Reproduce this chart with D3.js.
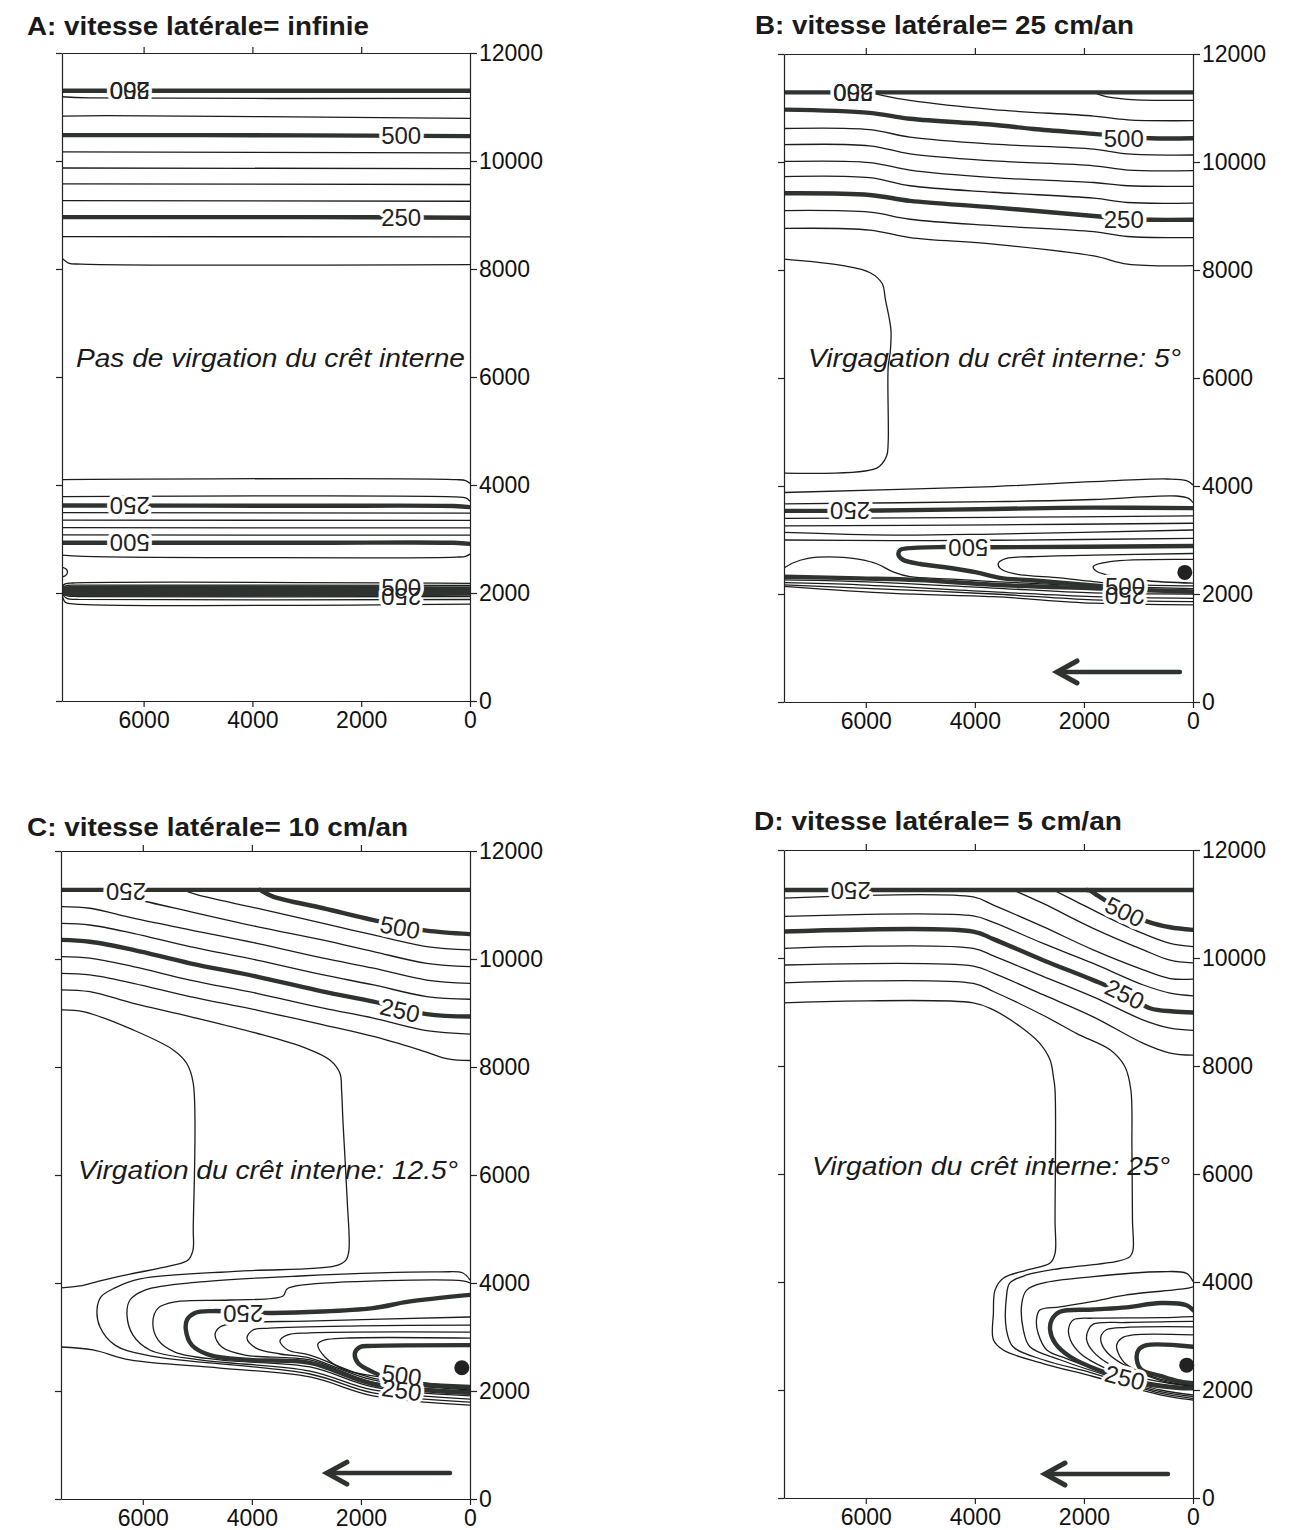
<!DOCTYPE html>
<html><head><meta charset="utf-8">
<script src="https://cdn.jsdelivr.net/npm/d3@7"></script>
<style>
body{margin:0;background:#fff}
svg{display:block}
text{font-family:"Liberation Sans",Arial,Helvetica,sans-serif}
</style>
</head><body>
<svg id="chart" width="1294" height="1530"></svg>
<script>
// ---------- common axes ----------
const xDomain = [7500, 0];
const yDomain = [0, 12000];
const yTicks = [0, 2000, 4000, 6000, 8000, 10000, 12000];
const xTicks = [6000, 4000, 2000, 0];
const xTopTicks = [6000, 4000, 2000];

const titles = {
  A: "A: vitesse latérale= infinie",
  B: "B: vitesse latérale= 25 cm/an",
  C: "C: vitesse latérale= 10 cm/an",
  D: "D: vitesse latérale= 5 cm/an"
};
const notes = {
  A: "Pas de virgation du crêt interne",
  B: "Virgagation du crêt interne: 5°",
  C: "Virgation du crêt interne: 12.5°",
  D: "Virgation du crêt interne: 25°"
};
// annotation anchors in data units: [x start, baseline y, x end]
const noteAnchors = {
  A: [7244, 6191, 92],
  B: [7061, 6204, 220],
  C: [7189, 5926, 220],
  D: [6988, 5982, 422]
};

// ---------- Panel A ----------
const aThick = [
  [[7500,11300],[0,11300]],
  [[7500,10480],[3000,10475],[0,10460]],
  [[7500,8960],[3000,8960],[0,8950]],
  [[7500,3620],[3000,3615],[300,3610],[0,3590]],
  [[7500,2930],[3000,2930],[300,2930],[0,2910]],
  [[7500,2075],[7440,2085],[0,2085]],
  [[7500,2040],[0,2035]],
  [[7500,2010],[7440,1995],[0,1990]]
];
const aThin = [
  [[7500,11190],[7000,11170],[0,11160]],
  [[7500,10830],[6700,10840],[3800,10820],[0,10790]],
  [[7500,10170],[0,10150]],
  [[7500,9870],[0,9860]],
  [[7500,9575],[0,9565]],
  [[7500,9265],[0,9255]],
  [[7500,8600],[0,8595]],
  [[7500,8200],[7380,8110],[7150,8090],[0,8080]],
  [[7500,4100],[250,4100],[80,4080],[0,4030]],
  [[7500,3785],[250,3780],[80,3760],[0,3700]],
  [[7500,3490],[0,3480]],
  [[7500,3350],[0,3345]],
  [[7500,3210],[0,3205]],
  [[7500,3075],[0,3070]],
  [[7500,2700],[7100,2680],[250,2665],[80,2680],[0,2720]],
  [[7500,2480],[7420,2440],[7400,2380],[7440,2320],[7500,2300]],
  [[7500,2120],[7440,2170],[7300,2185],[0,2180]],
  [[7500,2100],[7400,2140],[7200,2145],[0,2140]],
  [[7500,1995],[7400,1945],[7200,1935],[0,1935]],
  [[7500,1985],[7400,1895],[7200,1882],[0,1880]],
  [[7500,1975],[7440,1830],[7300,1800],[0,1795]]
];
const aLabels = [
  {t:"500",x:6254,y:11300,a:180},{t:"250",x:6254,y:11300,a:180},
  {t:"500",x:1265,y:10470,a:0},
  {t:"250",x:1265,y:8955,a:0},
  {t:"250",x:6254,y:3617,a:180},
  {t:"500",x:6254,y:2930,a:180},
  {t:"500",x:1265,y:2110,a:0},
  {t:"250",x:1265,y:1930,a:180}
];

// ---------- Panel B ----------
const bThick = [
  [[7500,11290],[0,11290]],
  [[7500,10970],[5930,10910],[5190,10800],[3660,10690],[2920,10610],[1820,10520],[1260,10470],[770,10440],[0,10440]],
  [[7500,9420],[5930,9390],[5190,9280],[3660,9160],[1820,9000],[1260,8950],[770,8930],[0,8930]],
  [[7500,3540],[6750,3540],[5740,3545],[3660,3575],[1830,3600],[0,3590]],
  [[0,2890],[3660,2865],[4580,2870],[5250,2845],[5370,2815],[5400,2722],[5310,2630],[5000,2555],[4580,2500],[3970,2400],[3540,2300],[2800,2240],[1830,2160],[1300,2120]],
  [[7500,2320],[6110,2290],[5040,2260],[3660,2170],[1830,2105],[850,2070],[0,2045]]
];
const bThin = [
  [[5900,11290],[5680,11230],[5190,11140],[3660,10970],[1820,10850],[1200,10780],[0,10765]],
  [[1820,11290],[1630,11220],[1200,11160],[0,11140]],
  [[7500,10620],[5930,10600],[5190,10460],[3660,10330],[1820,10240],[1200,10150],[0,10130]],
  [[7500,10320],[5930,10300],[5190,10150],[3660,10020],[1820,9930],[1200,9850],[0,9840]],
  [[7500,10010],[5930,9990],[5190,9850],[3660,9710],[1820,9620],[1200,9560],[0,9550]],
  [[7500,9730],[5930,9710],[5190,9560],[3660,9440],[1820,9330],[1200,9250],[0,9240]],
  [[7500,9100],[5930,9070],[5190,8940],[3660,8820],[1820,8710],[1200,8620],[0,8600]],
  [[7500,8770],[5930,8740],[5190,8600],[3660,8480],[1820,8260],[1200,8110],[0,8080]],
  [[7500,8200],[6420,8080],[5920,7950],[5700,7750],[5640,7450],[5540,6900],[5550,6500],[5590,6200],[5590,4800],[5620,4550],[5800,4330],[7500,4240]],
  [[7500,3880],[3660,3990],[1830,4080],[480,4130],[120,4100],[0,4020]],
  [[7500,3670],[3660,3710],[1830,3750],[300,3815],[80,3770],[0,3690]],
  [[7500,3400],[3660,3420],[0,3445]],
  [[7500,3260],[3660,3280],[0,3310]],
  [[7500,3140],[5500,3090],[3660,3110],[0,3185]],
  [[7500,3000],[5500,2990],[3660,2995],[0,3030]],
  [[0,2750],[1830,2720],[2980,2690],[3420,2660],[3570,2570],[3540,2480],[3300,2380],[2440,2300],[1830,2230],[1200,2180],[0,2150]],
  [[0,2640],[1520,2600],[1830,2510],[1770,2420],[1460,2330],[900,2250],[0,2200]],
  [[7500,2480],[7350,2570],[7060,2660],[6410,2680],[6110,2640],[5800,2560],[5500,2410],[5190,2320],[4500,2280],[3660,2230],[1830,2150],[0,2100]],
  [[7500,2260],[6110,2230],[3660,2110],[1830,2020],[0,2000]],
  [[7500,2210],[6110,2170],[3660,2040],[1830,1950],[0,1920]],
  [[7500,2170],[6110,2110],[3660,2000],[1830,1890],[0,1860]],
  [[7500,2140],[5500,2010],[3660,1950],[1830,1830],[0,1800]]
];
const bLabels = [
  {t:"500",x:6230,y:11280,a:180},{t:"250",x:6230,y:11280,a:180},
  {t:"500",x:1270,y:10445,a:0},
  {t:"250",x:1270,y:8930,a:0},
  {t:"250",x:6290,y:3540,a:180},
  {t:"500",x:4121,y:2862,a:180},
  {t:"500",x:1247,y:2135,a:0},
  {t:"250",x:1247,y:1965,a:180}
];
const bDots = [[150,2400]];
const bArrow = [240, 2530, 556];

// ---------- Panel C ----------
const cThick = [
  [[7500,11280],[0,11280]],
  [[3850,11280],[3610,11155],[2690,10940],[1770,10720],[1284,10620],[794,10525],[0,10460]],
  [[7500,10355],[6970,10320],[6175,10170],[5135,9920],[3910,9675],[2690,9395],[1770,9210],[794,8980],[0,8935]],
  [[0,3780],[1155,3650],[1780,3535],[3615,3445],[4160,3460],[4715,3480],[5045,3445],[5190,3315],[5210,3130],[5100,2850],[4770,2665],[4035,2575],[2935,2520],[1780,2130],[0,1965]],
  [[0,2850],[1780,2835],[2015,2815],[2110,2705],[2055,2520],[1780,2350],[1560,2260]],
  [[825,2110],[0,2075]]
];
const cThin = [
  [[5260,11280],[5010,11190],[3910,10940],[2690,10660],[1770,10445],[794,10230],[0,10170]],
  [[6660,11280],[6175,11125],[5135,10877],[3910,10600],[2690,10350],[1770,10137],[794,9920],[0,9860]],
  [[7500,10970],[6970,10940],[6175,10755],[5135,10540],[3910,10290],[2690,10015],[1770,9830],[794,9610],[0,9550]],
  [[7500,10660],[6970,10630],[6175,10475],[5135,10230],[3910,9980],[2690,9705],[1770,9520],[794,9305],[0,9255]],
  [[7500,10045],[6970,10015],[6175,9860],[5135,9610],[3910,9365],[2690,9090],[1770,8905],[794,8675],[0,8610]],
  [[7500,9735],[6970,9705],[6175,9550],[5135,9305],[3910,9055],[2690,8780],[1770,8565],[900,8310],[400,8150],[0,8120]],
  [[7500,9430],[6970,9395],[6175,9180],[5135,8935],[3910,8625],[3000,8345],[2570,8130],[2385,7885],[2355,7575],[2330,7000],[2250,5500],[2220,4610],[2275,4425],[2475,4315],[4220,4220],[6050,4075],[6510,3910],[6770,3740],[6840,3500],[6785,3185],[6510,2850],[5870,2650],[2935,2315],[1780,1965],[0,1795]],
  [[7500,9057],[7092,9026],[6175,8686],[5441,8316],[5196,8069],[5075,7699],[5075,5000],[5080,4610],[5170,4425],[5500,4315],[6235,4165],[6785,4040],[7150,3945],[7500,3910]],
  [[7500,2815],[6915,2760],[6235,2575],[4585,2425],[2935,2260],[1780,1910],[0,1740]],
  [[0,4055],[130,4185],[550,4205],[3120,4130],[4950,4020],[5960,3870],[6235,3685],[6290,3410],[6180,3035],[5870,2760],[4950,2575],[2935,2370],[1780,2020],[0,1850]],
  [[0,4000],[130,4040],[3060,3965],[3355,3890],[3430,3760],[4400,3685],[5410,3650],[5720,3535],[5815,3280],[5720,2945],[5410,2720],[4585,2575],[2935,2445],[1780,2075],[0,1910]],
  [[0,3370],[2990,3295],[4220,3260],[4585,3185],[4675,3040],[4550,2815],[4125,2665],[2935,2575],[1780,2165],[0,2000]],
  [[0,3220],[2015,3205],[3670,3165],[3980,3130],[4090,2980],[3925,2795],[3485,2685],[2935,2610],[1780,2205],[0,2020]],
  [[0,3090],[2935,3075],[3355,3035],[3485,2925],[3340,2760],[2935,2665],[1780,2240],[0,2035]],
  [[0,2980],[2290,2980],[2660,2945],[2790,2870],[2660,2630],[2290,2390],[1780,2280],[0,2055]]
];
const cLabels = [
  {t:"250",x:6309,y:11250,a:180},
  {t:"500",x:1284,y:10588,a:11},
  {t:"250",x:1284,y:9056,a:13},
  {t:"250",x:4160,y:3440,a:180},
  {t:"500",x:1253,y:2296,a:8},
  {t:"250",x:1253,y:2019,a:8}
];
const cDots = [[150,2430]];
const cArrow = [367, 2660, 480];

// ---------- Panel D ----------
const dThick = [
  [[7500,11260],[0,11260]],
  [[1950,11260],[1890,11250],[1770,11170],[1645,11090],[1250,10858],[820,10670],[420,10570],[0,10520]],
  [[7500,10490],[4030,10490],[3660,10350],[2750,9960],[1830,9590],[1250,9334],[790,9070],[360,9010],[0,8990]],
  [[0,3480],[120,3570],[600,3610],[1220,3530],[1830,3490],[2440,3450],[2590,3300],[2620,3110],[2530,2870],[2260,2620],[1710,2360],[1250,2220],[790,2100],[300,2040],[0,2030]],
  [[0,2800],[850,2830],[1000,2740],[1030,2560],[940,2370],[600,2260],[300,2170],[0,2125]]
];
const dThin = [
  [[2560,11260],[2130,11040],[1520,10730],[910,10450],[420,10270],[0,10210]],
  [[3300,11260],[2750,11010],[1830,10550],[910,10150],[420,9960],[0,9910]],
  [[7500,11110],[4030,11130],[3660,10980],[2750,10580],[1830,10150],[910,9780],[420,9620],[0,9610]],
  [[7500,10770],[4030,10780],[3660,10660],[2750,10270],[1830,9900],[910,9500],[420,9350],[0,9300]],
  [[7500,10180],[4030,10180],[3660,10040],[2750,9660],[1830,9280],[910,8850],[420,8700],[0,8660]],
  [[7500,9870],[4030,9850],[3660,9720],[2750,9320],[1830,8910],[910,8420],[420,8240],[0,8200]],
  [[7500,9540],[4030,9530],[3660,9380],[2750,8940],[2130,8600],[1520,8300],[1250,7990],[1140,7560],[1120,6500],[1110,5150],[1100,4590],[1155,4470],[1400,4380],[2440,4250],[3050,4130],[3360,3980],[3420,3730],[3420,3110],[3300,2800],[2750,2560],[1830,2310],[600,1940],[55,1850],[0,1845]],
  [[7500,9170],[4030,9170],[3660,9040],[3170,8730],[2810,8420],[2620,8110],[2560,7800],[2530,7560],[2530,5150],[2530,4530],[2620,4350],[3050,4220],[3480,4070],[3630,3850],[3660,3420],[3660,2930],[3480,2740],[2750,2490],[1830,2250],[600,1910],[55,1820],[0,1815]],
  [[0,4010],[120,4160],[600,4190],[1830,4100],[2750,3980],[3050,3850],[3140,3600],[3110,3110],[2990,2800],[2440,2560],[1520,2250],[600,1970],[0,1880]],
  [[0,3910],[120,3880],[1220,3760],[1830,3640],[2440,3540],[2810,3480],[2870,3300],[2840,3050],[2680,2740],[2320,2580],[1520,2290],[600,2000],[0,1910]],
  [[0,3360],[600,3340],[1830,3330],[2190,3300],[2280,3140],[2250,2930],[2070,2680],[1640,2420],[920,2170],[300,2075],[0,2060]],
  [[0,3270],[1220,3250],[1830,3220],[1920,3110],[1950,2930],[1830,2710],[1520,2470],[920,2220],[0,2070]],
  [[0,3170],[1220,3160],[1580,3120],[1680,3020],[1680,2870],[1560,2680],[1220,2440],[600,2180],[0,2085]],
  [[0,3020],[1100,3020],[1310,2960],[1400,2830],[1370,2680],[1220,2470],[600,2200],[0,2105]]
];
const dLabels = [
  {t:"250",x:6278,y:11240,a:180},
  {t:"500",x:1250,y:10858,a:26},
  {t:"250",x:1250,y:9334,a:26},
  {t:"250",x:1250,y:2230,a:14}
];
const dDots = [[115,2460]];
const dArrow = [459, 2751, 444];

// ---------- layout (pixels) ----------
const layout = {
  A:{l:62,r:470,t:53,b:701, tx:27, ty:35, tw:342},
  B:{l:784,r:1193,t:54,b:702, tx:755, ty:33.5, tw:379},
  C:{l:61,r:470,t:851,b:1499, tx:27, ty:836, tw:381},
  D:{l:784,r:1193,t:850,b:1498, tx:754, ty:830, tw:368}
};

const panels = [
  {key:"A", thin:aThin, thick:aThick, labels:aLabels, dots:[], arrow:null},
  {key:"B", thin:bThin, thick:bThick, labels:bLabels, dots:bDots, arrow:bArrow},
  {key:"C", thin:cThin, thick:cThick, labels:cLabels, dots:cDots, arrow:cArrow},
  {key:"D", thin:dThin, thick:dThick, labels:dLabels, dots:dDots, arrow:dArrow}
];

const svg = d3.select("#chart");
svg.append("rect").attr("width",1294).attr("height",1530).attr("fill","#fff");

panels.forEach(p => {
  const L = layout[p.key];
  const x = d3.scaleLinear().domain(xDomain).range([L.l, L.r]);
  const y = d3.scaleLinear().domain(yDomain).range([L.b, L.t]);
  const g = svg.append("g");
  const clipId = "clip" + p.key;
  g.append("clipPath").attr("id", clipId).append("rect")
    .attr("x", L.l).attr("y", L.t).attr("width", L.r - L.l).attr("height", L.b - L.t);

  const line = d3.line().x(d => x(d[0])).y(d => y(d[1])).curve(d3.curveCatmullRom.alpha(0.5));
  const cg = g.append("g").attr("clip-path", `url(#${clipId})`);
  cg.selectAll("path.thin").data(p.thin).join("path").attr("class","thin")
    .attr("d", line).attr("fill","none").attr("stroke","#1c1c1c").attr("stroke-width",1.3)
    .attr("stroke-linejoin","round");
  cg.selectAll("path.thick").data(p.thick).join("path").attr("class","thick")
    .attr("d", line).attr("fill","none").attr("stroke","#2f3330").attr("stroke-width",4.4)
    .attr("stroke-linecap","round").attr("stroke-linejoin","round");

  // contour labels: halo pass then text pass
  const lab = g.append("g").attr("font-size",24).attr("text-anchor","middle");
  lab.selectAll("text.halo").data(p.labels).join("text").attr("class","halo")
    .attr("transform", d => `translate(${x(d.x)},${y(d.y)}) rotate(${d.a})`)
    .attr("dy","0.36em").attr("fill","none").attr("stroke","#fff").attr("stroke-width",7)
    .attr("stroke-linejoin","round").text(d => d.t);
  lab.selectAll("text.lbl").data(p.labels).join("text").attr("class","lbl")
    .attr("transform", d => `translate(${x(d.x)},${y(d.y)}) rotate(${d.a})`)
    .attr("dy","0.36em").attr("fill","#222").text(d => d.t);

  // dots
  g.selectAll("circle.dot").data(p.dots).join("circle").attr("class","dot")
    .attr("cx", d => x(d[0])).attr("cy", d => y(d[1])).attr("r",7.5).attr("fill","#222");

  // arrow
  if (p.arrow) {
    const [x0, x1, ya] = p.arrow;
    const X0 = x(x0), X1 = x(x1), Y = y(ya);
    g.append("line").attr("x1",X0).attr("x2",X1+4).attr("y1",Y).attr("y2",Y)
      .attr("stroke","#2f3330").attr("stroke-width",4.5).attr("stroke-linecap","round");
    g.append("path").attr("d",`M${X1+22},${Y-11}L${X1+2},${Y}L${X1+22},${Y+11}`)
      .attr("fill","none").attr("stroke","#2f3330").attr("stroke-width",5).attr("stroke-linecap","round")
      .attr("stroke-linejoin","miter");
  }

  // axes
  const styleAxis = sel => {
    sel.attr("font-size",23).attr("font-family","Liberation Sans, Arial, sans-serif");
    sel.selectAll("path,line").attr("stroke","#222").attr("stroke-width",1.2);
    sel.selectAll("text").attr("fill","#111");
  };
  g.append("g").attr("transform",`translate(${L.r},0)`)
    .call(d3.axisRight(y).tickValues(yTicks).tickSize(7).tickPadding(2).tickSizeOuter(0).tickFormat(d3.format("d")))
    .call(styleAxis);
  g.append("g").attr("transform",`translate(${L.l},0)`)
    .call(d3.axisLeft(y).tickValues(yTicks).tickSize(6).tickSizeOuter(0).tickFormat(""))
    .call(styleAxis);
  g.append("g").attr("transform",`translate(0,${L.b})`)
    .call(d3.axisBottom(x).tickValues(xTicks).tickSize(6).tickPadding(5).tickSizeOuter(0).tickFormat(d3.format("d")))
    .call(styleAxis);
  g.append("g").attr("transform",`translate(0,${L.t})`)
    .call(d3.axisTop(x).tickValues(xTopTicks).tickSize(6).tickSizeOuter(0).tickFormat(""))
    .call(styleAxis);

  // title
  g.append("text").attr("x", L.tx).attr("y", L.ty).attr("font-size",25).attr("font-weight","bold")
    .attr("fill","#1a1a1a").attr("textLength", L.tw).attr("lengthAdjust","spacingAndGlyphs")
    .text(titles[p.key]);

  // annotation
  const na = noteAnchors[p.key];
  g.append("text").attr("x", x(na[0])).attr("y", y(na[1])).attr("font-size",25).attr("font-style","italic")
    .attr("fill","#1a1a1a").attr("textLength", x(na[2]) - x(na[0])).attr("lengthAdjust","spacingAndGlyphs")
    .text(notes[p.key]);
});
</script>
</body></html>
